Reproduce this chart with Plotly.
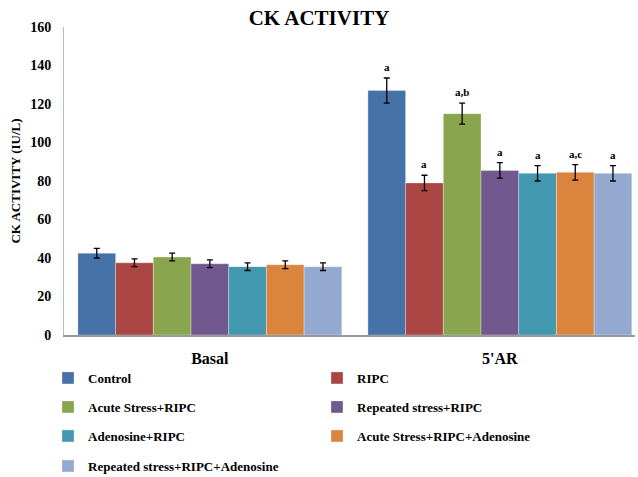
import plotly.graph_objects as go

categories = ["Basal", "5'AR"]
series = ["Control", "RIPC", "Acute Stress+RIPC", "Repeated stress+RIPC",
          "Adenosine+RIPC", "Acute Stress+RIPC+Adenosine", "Repeated stress+RIPC+Adenosine"]
colors = ["#4572A7", "#AA4643", "#89A54E", "#71588F", "#4198AF", "#DB843D", "#93A9CF"]
values = {
    "Control": [42.5, 127],
    "RIPC": [37.5, 79],
    "Acute Stress+RIPC": [40.5, 115],
    "Repeated stress+RIPC": [37, 85.5],
    "Adenosine+RIPC": [35.5, 84],
    "Acute Stress+RIPC+Adenosine": [36.5, 84.5],
    "Repeated stress+RIPC+Adenosine": [35.5, 84],
}
errors = {
    "Control": [2.5, 6.5],
    "RIPC": [2.0, 4.0],
    "Acute Stress+RIPC": [2.0, 5.5],
    "Repeated stress+RIPC": [2.0, 4.0],
    "Adenosine+RIPC": [2.0, 4.0],
    "Acute Stress+RIPC+Adenosine": [2.0, 4.0],
    "Repeated stress+RIPC+Adenosine": [2.0, 4.0],
}
sig_labels = {
    "Control": ["", "a"],
    "RIPC": ["", "a"],
    "Acute Stress+RIPC": ["", "a,b"],
    "Repeated stress+RIPC": ["", "a"],
    "Adenosine+RIPC": ["", "a"],
    "Acute Stress+RIPC+Adenosine": ["", "a,c"],
    "Repeated stress+RIPC+Adenosine": ["", "a"],
}

FONT = "Liberation Serif, Times New Roman, serif"
W, H = 638, 477
ML, MR, MT, MB = 64, 3, 27, 142
BARGAP = 0.09
X_RANGE = [-0.503, 1.466]

fig = go.Figure()
legend_ids = ["legend", "legend", "legend2", "legend2", "legend3", "legend3", "legend4"]
for i, s in enumerate(series):
    fig.add_trace(go.Bar(
        name=s, x=categories, y=values[s],
        marker=dict(color=colors[i], line=dict(color="rgba(255,255,255,0.6)", width=0.5)),
        error_y=dict(type="data", array=errors[s], color="black", thickness=1.3, width=3),
        legend=legend_ids[i],
    ))

# significance letters above error bars
plot_w = W - ML - MR
cat_w = plot_w / (X_RANGE[1] - X_RANGE[0])
bar_w = cat_w * (1 - BARGAP) / len(series)
for i, s in enumerate(series):
    for j, c in enumerate(categories):
        lab = sig_labels[s][j]
        if lab:
            fig.add_annotation(
                x=c, y=values[s][j] + errors[s][j], text="<b>" + lab + "</b>", showarrow=False,
                xshift=(i - (len(series) - 1) / 2) * bar_w, yshift=3, yanchor="bottom",
                font=dict(family=FONT, size=11, color="black"),
            )

leg_common = dict(orientation="h", xanchor="left", x=-0.028, yanchor="middle",
                  entrywidth=224, entrywidthmode="pixels",
                  font=dict(family=FONT, size=13, color="black", weight="bold"),
                  bgcolor="rgba(0,0,0,0)", itemclick=False)
row_y = [378, 407, 436, 466]
def ypaper(py):
    return (H - MB - py) / (H - MT - MB)

fig.update_layout(
    width=W, height=H,
    margin=dict(l=ML, r=MR, t=MT, b=MB, autoexpand=False),
    paper_bgcolor="white", plot_bgcolor="white",
    barmode="group", bargap=BARGAP, bargroupgap=0,
    title=dict(text="<b>CK ACTIVITY</b>", x=0.5, xanchor="center", y=1 - 18 / H, yanchor="middle",
               font=dict(family=FONT, size=21, color="black"), automargin=False),
    font=dict(family=FONT, color="black"),
    xaxis=dict(range=X_RANGE, showline=True, linecolor="#999999", linewidth=1.5, showgrid=False,
               ticks="outside", ticklen=8, tickcolor="rgba(0,0,0,0)", automargin=False,
               tickfont=dict(family=FONT, size=16, color="black", weight="bold")),
    yaxis=dict(range=[0, 160], dtick=20, showline=True, linecolor="#BBBBBB", linewidth=1,
               showgrid=False, zeroline=False, automargin=False,
               ticks="outside", ticklen=9, tickcolor="rgba(0,0,0,0)",
               tickfont=dict(family=FONT, size=14, color="black", weight="bold"),
               title=dict(text="<b>CK ACTIVITY (IU/L)</b>", font=dict(family=FONT, size=13, color="black"),
                          standoff=6)),
    legend=dict(**leg_common, y=ypaper(row_y[0])),
    legend2=dict(**leg_common, y=ypaper(row_y[1])),
    legend3=dict(**leg_common, y=ypaper(row_y[2])),
    legend4=dict(**leg_common, y=ypaper(row_y[3])),
)

fig.write_html("out.html", config={"displayModeBar": False},
               post_script="document.body.style.margin='0px';")
